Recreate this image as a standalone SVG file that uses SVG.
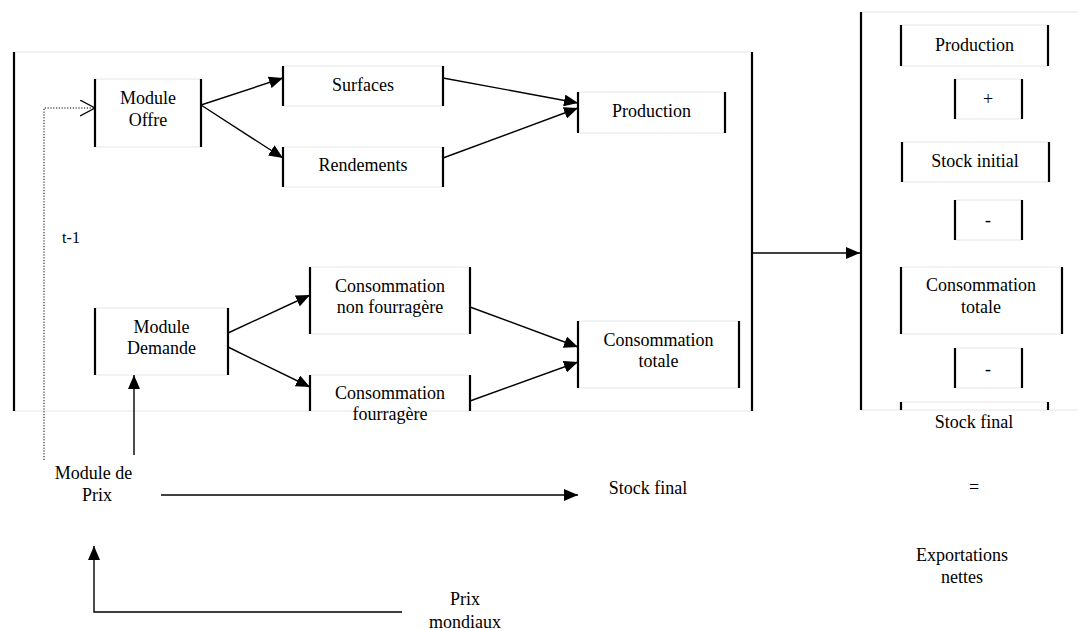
<svg xmlns="http://www.w3.org/2000/svg" width="1078" height="630" viewBox="0 0 1078 630">
<style>
text{font-family:"Liberation Serif","Times New Roman",serif;font-size:18px;fill:#000;text-anchor:middle}
.side{stroke:#000;stroke-width:2.2;fill:none}
.faint{stroke:#e6e6e6;stroke-width:1;fill:none}
.frame{stroke:#000;stroke-width:2.2;fill:none}
.conn{stroke:#000;stroke-width:1.4;fill:none}
.arr{marker-end:url(#ah)}
.dot{stroke:#000;stroke-width:1;stroke-dasharray:1.2 1.6;fill:none}
</style>
<defs>
<marker id="ah" markerUnits="userSpaceOnUse" markerWidth="16" markerHeight="12" refX="14" refY="6" orient="auto">
<path d="M0,0 L14,6 L0,12 Z" fill="#000"/>
</marker>
<marker id="oh" markerUnits="userSpaceOnUse" markerWidth="16" markerHeight="18" refX="15" refY="8" orient="auto">
<path d="M0,0 L15,8 L0,16" fill="none" stroke="#000" stroke-width="1.2"/>
</marker>
</defs>
<rect width="1078" height="630" fill="#fff"/>

<g id="frame-left">
<line class="faint" x1="14" y1="52" x2="752" y2="52"/>
<line class="faint" x1="14" y1="411" x2="752" y2="411"/>
<line class="frame" x1="14" y1="52" x2="14" y2="411"/>
<line class="frame" x1="752" y1="52" x2="752" y2="411"/>
</g>
<g id="frame-right">
<line class="faint" x1="861" y1="12" x2="1078" y2="12"/>
<line class="faint" x1="861" y1="410" x2="1078" y2="410"/>
<line class="frame" x1="861" y1="12" x2="861" y2="410"/>
</g>

<g id="module-offre">
<line class="faint" x1="95" y1="79" x2="201" y2="79"/><line class="faint" x1="95" y1="147" x2="201" y2="147"/>
<line class="side" x1="95" y1="79" x2="95" y2="147"/><line class="side" x1="201" y1="79" x2="201" y2="147"/>
<text x="148" y="104">Module</text><text x="148" y="126">Offre</text>
</g>
<g id="surfaces">
<line class="faint" x1="283" y1="66" x2="443" y2="66"/><line class="faint" x1="283" y1="106" x2="443" y2="106"/>
<line class="side" x1="283" y1="66" x2="283" y2="106"/><line class="side" x1="443" y1="66" x2="443" y2="106"/>
<text x="363" y="91">Surfaces</text>
</g>
<g id="rendements">
<line class="faint" x1="283" y1="147" x2="443" y2="147"/><line class="faint" x1="283" y1="187" x2="443" y2="187"/>
<line class="side" x1="283" y1="147" x2="283" y2="187"/><line class="side" x1="443" y1="147" x2="443" y2="187"/>
<text x="363" y="171">Rendements</text>
</g>
<g id="production">
<line class="faint" x1="578" y1="92" x2="725" y2="92"/><line class="faint" x1="578" y1="133" x2="725" y2="133"/>
<line class="side" x1="578" y1="92" x2="578" y2="133"/><line class="side" x1="725" y1="92" x2="725" y2="133"/>
<text x="651.5" y="117">Production</text>
</g>
<g id="module-demande">
<line class="faint" x1="95" y1="308" x2="228" y2="308"/><line class="faint" x1="95" y1="375" x2="228" y2="375"/>
<line class="side" x1="95" y1="308" x2="95" y2="375"/><line class="side" x1="228" y1="308" x2="228" y2="375"/>
<text x="161.5" y="333">Module</text><text x="161.5" y="354">Demande</text>
</g>
<g id="conso-non-fourragere">
<line class="faint" x1="310" y1="267" x2="470" y2="267"/><line class="faint" x1="310" y1="334" x2="470" y2="334"/>
<line class="side" x1="310" y1="267" x2="310" y2="334"/><line class="side" x1="470" y1="267" x2="470" y2="334"/>
<text x="390" y="292">Consommation</text><text x="390" y="313">non fourragère</text>
</g>
<g id="conso-fourragere">
<line class="faint" x1="310" y1="375" x2="470" y2="375"/>
<line class="side" x1="310" y1="375" x2="310" y2="411"/><line class="side" x1="470" y1="375" x2="470" y2="411"/>
<text x="390" y="399">Consommation</text><text x="390" y="420">fourragère</text>
</g>
<g id="conso-totale">
<line class="faint" x1="578" y1="321" x2="739" y2="321"/><line class="faint" x1="578" y1="388" x2="739" y2="388"/>
<line class="side" x1="578" y1="321" x2="578" y2="388"/><line class="side" x1="739" y1="321" x2="739" y2="388"/>
<text x="658.5" y="346">Consommation</text><text x="658.5" y="367">totale</text>
</g>

<g id="r-production">
<line class="faint" x1="901" y1="25" x2="1048" y2="25"/><line class="faint" x1="901" y1="66" x2="1048" y2="66"/>
<line class="side" x1="901" y1="25" x2="901" y2="66"/><line class="side" x1="1048" y1="25" x2="1048" y2="66"/>
<text x="974.5" y="51">Production</text>
</g>
<g id="r-plus">
<line class="faint" x1="955" y1="79" x2="1022" y2="79"/><line class="faint" x1="955" y1="119" x2="1022" y2="119"/>
<line class="side" x1="955" y1="79" x2="955" y2="119"/><line class="side" x1="1022" y1="79" x2="1022" y2="119"/>
<text x="988" y="105">+</text>
</g>
<g id="r-stock-initial">
<line class="faint" x1="902" y1="142" x2="1049" y2="142"/><line class="faint" x1="902" y1="182" x2="1049" y2="182"/>
<line class="side" x1="902" y1="142" x2="902" y2="182"/><line class="side" x1="1049" y1="142" x2="1049" y2="182"/>
<text x="975" y="167">Stock initial</text>
</g>
<g id="r-minus1">
<line class="faint" x1="955" y1="200" x2="1022" y2="200"/><line class="faint" x1="955" y1="240" x2="1022" y2="240"/>
<line class="side" x1="955" y1="200" x2="955" y2="240"/><line class="side" x1="1022" y1="200" x2="1022" y2="240"/>
<text x="988" y="226">-</text>
</g>
<g id="r-conso-totale">
<line class="faint" x1="901" y1="267" x2="1062" y2="267"/><line class="faint" x1="901" y1="334" x2="1062" y2="334"/>
<line class="side" x1="901" y1="267" x2="901" y2="334"/><line class="side" x1="1062" y1="267" x2="1062" y2="334"/>
<text x="981" y="291">Consommation</text><text x="981" y="313">totale</text>
</g>
<g id="r-minus2">
<line class="faint" x1="955" y1="348" x2="1022" y2="348"/><line class="faint" x1="955" y1="388" x2="1022" y2="388"/>
<line class="side" x1="955" y1="348" x2="955" y2="388"/><line class="side" x1="1022" y1="348" x2="1022" y2="388"/>
<text x="988" y="375">-</text>
</g>
<g id="r-stock-final">
<line class="faint" x1="901" y1="402" x2="1048" y2="402"/>
<line class="side" x1="901" y1="402" x2="901" y2="410"/><line class="side" x1="1048" y1="402" x2="1048" y2="410"/>
<text x="974" y="428">Stock final</text>
</g>
<g id="r-equals"><text x="974" y="493">=</text></g>
<g id="r-exportations"><text x="962" y="561">Exportations</text><text x="962" y="583">nettes</text></g>

<g id="t-1"><text x="71" y="243" style="font-size:16px">t-1</text></g>
<g id="module-prix"><text x="93.5" y="479">Module de</text><text x="97" y="501">Prix</text></g>
<g id="stock-final"><text x="648" y="494">Stock final</text></g>
<g id="prix-mondiaux"><text x="465" y="605">Prix</text><text x="465" y="628">mondiaux</text></g>

<g id="connectors">
<line class="conn arr" x1="201" y1="105" x2="283" y2="78"/>
<line class="conn arr" x1="201" y1="105" x2="283" y2="158"/>
<line class="conn arr" x1="443" y1="78" x2="578" y2="103"/>
<line class="conn arr" x1="443" y1="158" x2="578" y2="108"/>
<line class="conn arr" x1="228" y1="333" x2="310" y2="295"/>
<line class="conn arr" x1="228" y1="347" x2="310" y2="387"/>
<line class="conn arr" x1="470" y1="307" x2="578" y2="347"/>
<line class="conn arr" x1="470" y1="401" x2="578" y2="362"/>
<line class="conn arr" x1="752" y1="253" x2="860" y2="253"/>
<line class="conn arr" x1="134" y1="455" x2="134" y2="375"/>
<line class="conn arr" x1="161" y1="495" x2="578" y2="495"/>
<polyline class="conn arr" points="402,612 94,612 94,546"/>
<polyline class="dot" points="44,460 44,108 95,108" marker-end="url(#oh)"/>
</g>
</svg>
